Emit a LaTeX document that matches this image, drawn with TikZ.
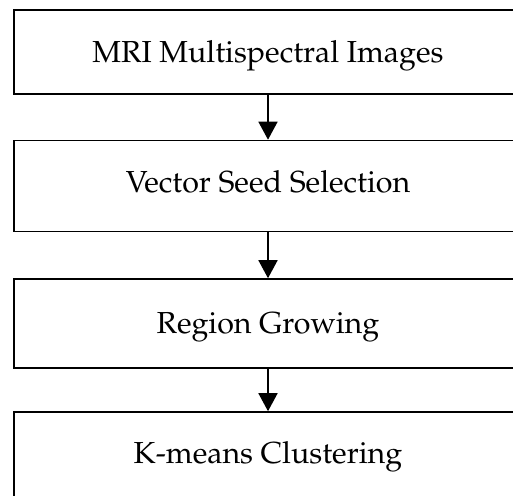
\documentclass[tikz,border=0pt]{standalone}
\usepackage[T1]{fontenc}
\usepackage{mathpazo}
\usetikzlibrary{arrows.meta}
\tikzset{
  stepbox/.style={draw=black, line width=1.6pt, fill=white, minimum width=508pt, inner sep=0pt},
  steptext/.style={anchor=base, inner sep=0pt, font=\fontsize{30.4}{36}\selectfont},
  flow/.style={line width=1.6pt, -{Triangle[length=18pt,width=19pt]}}
}
\begin{document}
\begin{tikzpicture}[x=1pt,y=-1pt]
\useasboundingbox (0,0) rectangle (513,495);
\clip (0,0) rectangle (513,495);
\fill[white] (0,0) rectangle (513,495);
\node[stepbox, minimum height=84pt] (b1) at (268,52) {};
\node[stepbox, minimum height=91pt] (b2) at (268,186) {};
\node[stepbox, minimum height=89pt] (b3) at (268,323.5) {};
\node[stepbox, minimum height=98pt] (b4) at (268,461) {};
\node[steptext] (t1) at (268,63) {MRI Multispectral Images};
\node[steptext] (t2) at (268,192.5) {Vector Seed Selection};
\node[steptext] (t3) at (268,333) {Region Growing};
\node[steptext] (t4) at (268,463) {K-means Clustering};
\draw[flow] (b1.south) -- (b2.north);
\draw[flow] (b2.south) -- (b3.north);
\draw[flow] (b3.south) -- (b4.north);
\end{tikzpicture}
\end{document}
